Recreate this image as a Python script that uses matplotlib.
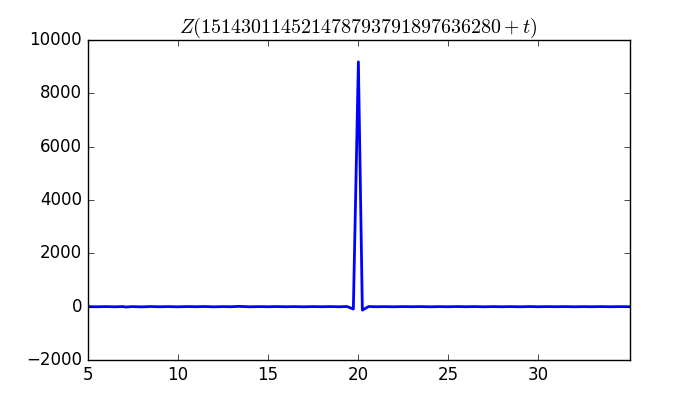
import matplotlib
matplotlib.use("Agg")
import matplotlib.pyplot as plt

plt.style.use("classic")

t = [5.0, 5.5, 6.0, 6.5, 7.0, 7.1, 7.5, 8.0, 8.5, 9.0, 9.5, 10.0, 10.5, 11.0,
     11.5, 12.0, 12.5, 13.0, 13.4, 14.0, 14.5, 15.0, 15.5, 16.0, 16.5, 17.0,
     17.5, 18.0, 18.5, 19.0, 19.4, 19.75, 20.03, 20.25, 20.6, 21.0, 21.5, 22.0,
     22.5, 23.0, 23.5, 24.0, 24.5, 25.0, 25.5, 26.0, 26.5, 27.0, 27.5, 28.0,
     28.5, 29.0, 29.5, 30.0, 30.5, 31.0, 31.5, 32.0, 32.5, 33.0, 33.5, 34.0,
     34.5, 35.1]
z = [2, -4, 3, -5, 4, -15, 3, -8, 5, -4, 3, -6, 4, -2,
     5, -7, 3, -3, 12, -5, 2, -3, 4, -3, 2, -5, 3, -2, 3, -4,
     6, -90, 9180, -130, 5, -3, 2, -4, 3, -2, 3, -5, 2, -3, 4, -2,
     3, -5, 3, -3, 2, -4, 5, -3, 3, -2, 3, -4, 2, -2, 3, -3,
     2, -1]

fig = plt.figure(figsize=(7, 4), dpi=100)
ax = fig.add_subplot(111)
ax.plot(t, z, color="b", linewidth=2)
ax.set_xlim(5, 35.1)
ax.set_ylim(-2000, 10000)
ax.set_xticks([5, 10, 15, 20, 25, 30])
ax.set_title(r"$Z(151430114521478793791897636280+t)$")
fig.savefig("out.png", dpi=100)
